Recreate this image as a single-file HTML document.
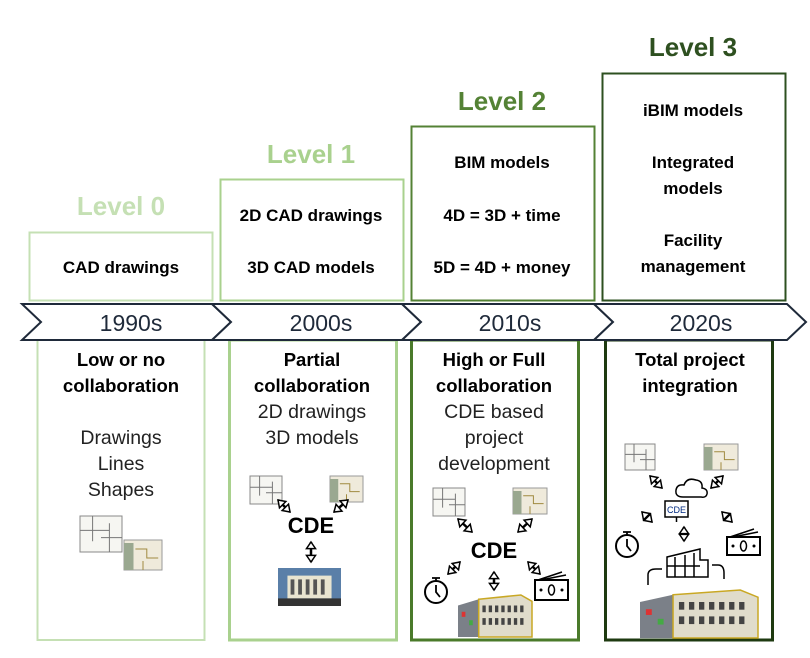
<!DOCTYPE html>
<html><head><meta charset="utf-8">
<style>
html,body{margin:0;padding:0;background:#fff;}
svg{display:block;font-family:"Liberation Sans",sans-serif;}
</style></head>
<body>
<svg id="s" width="810" height="658" viewBox="0 0 810 658">
<g font-weight="bold" font-size="26" text-anchor="middle">
<text x="121" y="215" fill="#c5e0b4">Level 0</text>
<text x="311" y="163" fill="#a9d18e">Level 1</text>
<text x="502" y="110" fill="#548235">Level 2</text>
<text x="693" y="56" fill="#2e5020">Level 3</text>
</g>
<rect x="29.5" y="232.5" width="183" height="68" fill="none" stroke="#c5e0b4" stroke-width="2"/>
<rect x="220.5" y="179.5" width="183" height="121" fill="none" stroke="#a9d18e" stroke-width="2"/>
<rect x="411.5" y="126.5" width="183" height="174" fill="none" stroke="#548235" stroke-width="2"/>
<rect x="602.5" y="73.5" width="183" height="227" fill="none" stroke="#2e5020" stroke-width="2"/>
<g font-weight="bold" font-size="17" text-anchor="middle" fill="#000">
<text x="121" y="273">CAD drawings</text>
<text x="311" y="221">2D CAD drawings</text>
<text x="311" y="273">3D CAD models</text>
<text x="502" y="168">BIM models</text>
<text x="502" y="221">4D = 3D + time</text>
<text x="502" y="273">5D = 4D + money</text>
<text x="693" y="116">iBIM models</text>
<text x="693" y="168">Integrated</text>
<text x="693" y="194">models</text>
<text x="693" y="246">Facility</text>
<text x="693" y="272">management</text>
</g>
<rect x="37.5" y="340" width="167" height="300" fill="none" stroke="#c5e0b4" stroke-width="2"/>
<rect x="229.5" y="340" width="167" height="300" fill="none" stroke="#a9d18e" stroke-width="3"/>
<rect x="411.5" y="340" width="167" height="300" fill="none" stroke="#4a7a2a" stroke-width="3"/>
<rect x="605.5" y="340" width="167" height="300" fill="none" stroke="#1e3a10" stroke-width="3"/>
<g stroke="#1f2a3a" stroke-width="2" fill="#fff">
<polygon points="22,304 212,304 231,322 212,340 22,340 41,322"/>
<polygon points="212,304 402,304 421,322 402,340 212,340 231,322"/>
<polygon points="402,304 594,304 613,322 594,340 402,340 421,322"/>
<polygon points="594,304 787,304 806,322 787,340 594,340 613,322"/>
</g>
<g font-size="23" text-anchor="middle" fill="#1f2a3a">
<text x="131" y="331">1990s</text>
<text x="321" y="331">2000s</text>
<text x="510" y="331">2010s</text>
<text x="701" y="331">2020s</text>
</g>
<g text-anchor="middle" fill="#000">
<g font-weight="bold" font-size="18.5">
<text x="121" y="366">Low or no</text>
<text x="121" y="392">collaboration</text>
<text x="312" y="366">Partial</text>
<text x="312" y="392">collaboration</text>
<text x="494" y="366">High or Full</text>
<text x="494" y="392">collaboration</text>
<text x="690" y="366">Total project</text>
<text x="690" y="392">integration</text>
</g>
<g font-size="19.5" fill="#222">
<text x="121" y="444">Drawings</text>
<text x="121" y="470">Lines</text>
<text x="121" y="496">Shapes</text>
<text x="312" y="418">2D drawings</text>
<text x="312" y="444">3D models</text>
<text x="494" y="418">CDE based</text>
<text x="494" y="444">project</text>
<text x="494" y="470">development</text>
</g>
</g>
<g font-weight="bold" font-size="22" text-anchor="middle" fill="#000">
<text x="311" y="533">CDE</text>
<text x="494" y="558">CDE</text>
</g>
<g id="icons"></g>
</svg>
<script>
const NS="http://www.w3.org/2000/svg";
const g=document.getElementById('icons');
function mk(tag,attrs,parent){const e=document.createElementNS(NS,tag);for(const k in attrs)e.setAttribute(k,attrs[k]);(parent||g).appendChild(e);return e;}
function plan(x,y,w,h){const grp=mk('g',{});


mk('rect',{x:x,y:y,width:w,height:h,fill:'#f6f6f2',stroke:'#888','stroke-width':1},grp);
mk('path',{d:`M${x+w*0.3} ${y} V${y+h*0.7} M${x} ${y+h*0.4} H${x+w*0.7} M${x+w*0.7} ${y+h*0.2} V${y+h} M${x+w*0.5} ${y+h*0.6} H${x+w}`,stroke:'#777',fill:'none','stroke-width':1},grp);}
function plan3(x,y,w,h){const grp=mk('g',{});


mk('rect',{x:x,y:y,width:w,height:h,fill:'#efeadb',stroke:'#999','stroke-width':1},grp);
mk('rect',{x:x,y:y+3,width:w*0.25,height:h-3,fill:'#9aa890'},grp);
mk('path',{d:`M${x+w*0.3} ${y+h*0.3} H${x+w*0.6} V${y+h*0.6} H${x+w*0.9} M${x+w*0.5} ${y+h} V${y+h*0.7}`,stroke:'#a08a40',fill:'none','stroke-width':1},grp);}
function darrow(x1,y1,x2,y2,name){const grp=mk('g',{});


mk('line',{x1:x1,y1:y1,x2:x2,y2:y2,stroke:'#000','stroke-width':2.5},grp);
const a=Math.atan2(y2-y1,x2-x1);
[[x2,y2,a],[x1,y1,a+Math.PI]].forEach(([px,py,an])=>{
const p1=[px-8*Math.cos(an-0.6),py-8*Math.sin(an-0.6)],p2=[px-8*Math.cos(an+0.6),py-8*Math.sin(an+0.6)];
mk('polygon',{points:`${px},${py} ${p1} ${p2}`,fill:'#fff',stroke:'#000','stroke-width':1.5},grp);});}
function building(x,y,w,h,photo){const grp=mk('g',{});


if(photo){mk('rect',{x:x,y:y,width:w,height:h,fill:'#5a7fa8'},grp);
mk('rect',{x:x+w*0.15,y:y+h*0.2,width:w*0.7,height:h*0.6,fill:'#e8e4d0'},grp);
mk('rect',{x:x,y:y+h*0.8,width:w,height:h*0.2,fill:'#333'},grp);
for(let i=0;i<5;i++)mk('rect',{x:x+w*0.2+i*w*0.12,y:y+h*0.3,width:w*0.06,height:h*0.4,fill:'#555'},grp);}
else{mk('polygon',{points:`${x},${y+h*0.25} ${x+w*0.28},${y+h*0.1} ${x+w*0.28},${y+h} ${x},${y+h}`,fill:'#7b8088'},grp);
mk('polygon',{points:`${x+w*0.28},${y+h*0.1} ${x+w*0.85},${y} ${x+w},${y+h*0.15} ${x+w},${y+h} ${x+w*0.28},${y+h}`,fill:'#e0dccb',stroke:'#c9a824','stroke-width':1.5},grp);
for(let r=0;r<2;r++)for(let i=0;i<7;i++)mk('rect',{x:x+w*0.33+i*w*0.085,y:y+h*(0.25+r*0.3),width:w*0.045,height:h*0.16,fill:'#444'},grp);
mk('rect',{x:x+w*0.05,y:y+h*0.4,width:w*0.05,height:h*0.12,fill:'#d33'},grp);
mk('rect',{x:x+w*0.15,y:y+h*0.6,width:w*0.05,height:h*0.12,fill:'#4a4'},grp);}}
function timer(cx,cy,r){const grp=mk('g',{});


mk('circle',{cx:cx,cy:cy,r:r,fill:'#fff',stroke:'#000','stroke-width':2},grp);
mk('path',{d:`M${cx-4} ${cy-r-3} H${cx+4} M${cx} ${cy-r-3} V${cy-r} M${cx} ${cy-r+4} V${cy} L${cx+4} ${cy+5}`,stroke:'#000','stroke-width':1.8,fill:'none'},grp);}
function money(x,y,w,h){const grp=mk('g',{});


mk('path',{d:`M${x+3} ${y} L${x+w-6} ${y-8} M${x+6} ${y} L${x+w-2} ${y-5}`,stroke:'#000','stroke-width':1.5},grp);
mk('rect',{x:x,y:y,width:w,height:h,fill:'#fff',stroke:'#000','stroke-width':2},grp);
mk('ellipse',{cx:x+w/2,cy:y+h/2,rx:3,ry:5,fill:'none',stroke:'#000','stroke-width':1.5},grp);
mk('circle',{cx:x+6,cy:y+h/2,r:1.5},grp);mk('circle',{cx:x+w-6,cy:y+h/2,r:1.5},grp);}
plan(80,516,42,36);plan3(124,540,38,30);
plan(250,476,32,28);plan3(330,476,33,26);
darrow(278,500,290,512,'arrow-plan-cde');darrow(348,500,334,512,'arrow-3d-cde');
darrow(311,542,311,562,'arrow-cde-building');
building(278,568,63,38,true);
plan(433,488,32,28);plan3(513,488,34,26);
darrow(458,519,472,532,'arrow-plan-cde-2');darrow(532,519,518,532,'arrow-3d-cde-2');
darrow(460,562,448,574,'arrow-cde-timer');darrow(528,562,540,574,'arrow-cde-money');
darrow(494,572,494,590,'arrow-cde-building-2');
timer(436,592,11);money(535,580,33,20);
building(458,595,74,42,false);
plan(625,444,30,26);plan3(704,444,34,26);
darrow(650,476,662,488,'arrow-plan-cloud');darrow(723,476,711,488,'arrow-3d-cloud');
const cl=mk('path',{d:'M683 497 q-8 0 -7 -7 q1 -6 8 -5 q3 -8 12 -5 q7 1 6 8 q6 1 5 6 q-1 4 -6 3 z',fill:'#fff',stroke:'#000','stroke-width':1.5});


const mon=mk('rect',{x:665,y:501,width:23,height:16,fill:'#fff',stroke:'#000','stroke-width':1.5});


const mt=mk('text',{x:676.5,y:513,'font-size':9,'text-anchor':'middle',fill:'#002a80'});mt.textContent='CDE';


mk('line',{x1:676.5,y1:517,x2:676.5,y2:522,stroke:'#000','stroke-width':1.5});
darrow(652,522,642,512,'arrow-monitor-timer');darrow(722,512,732,522,'arrow-monitor-money');
darrow(684,527,684,541,'arrow-monitor-factory');
timer(627,546,11);money(727,537,33,18);
const fac=mk('path',{d:'M667 577 V557 L700 549 V560 H708 V577 Z M675 557 V577 M685 555 V577 M694 553 V577 M667 566 H700',fill:'#fff',stroke:'#000','stroke-width':1.5});


mk('path',{d:'M648 585 V575 q0 -6 8 -6 h6',fill:'none',stroke:'#000','stroke-width':1.5});
mk('path',{d:'M712 565 h6 q6 0 6 8 v6',fill:'none',stroke:'#000','stroke-width':1.5});
building(640,590,118,48,false);
</script>
</body></html>
